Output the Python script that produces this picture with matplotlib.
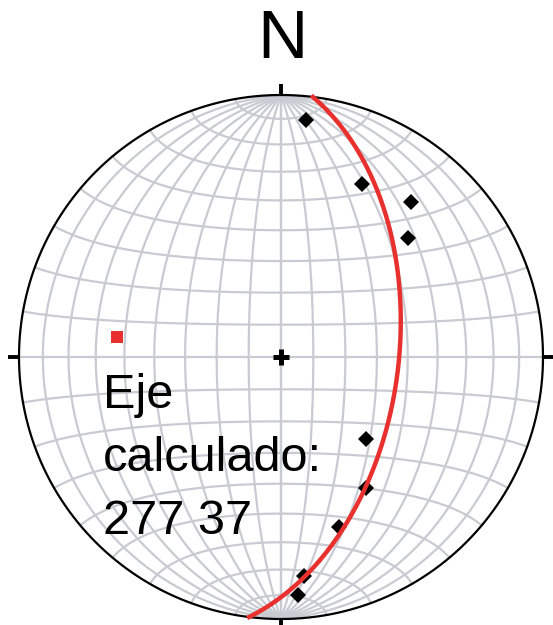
import numpy as np
import matplotlib.pyplot as plt

plt.rcParams['font.family'] = ['Liberation Sans', 'DejaVu Sans']

# measured lineations (trend, plunge in degrees)
trends = [6, 25, 40, 47, 134, 147, 161, 174, 176]
plunges = [10, 28, 24, 34, 53, 40, 32, 17, 10]

# computed fold axis
axis_trend = 277
axis_plunge = 37
label_lines = ["Eje", "calculado:", f"{axis_trend} {axis_plunge}"]

GRID = "#c9cbd2"
RED = "#e8312f"


def line_vec(trend, plunge):
    t, p = np.radians(trend), np.radians(plunge)
    return np.array([np.cos(p) * np.sin(t), np.cos(p) * np.cos(t), np.sin(p)])


def project(v):
    # lower hemisphere Lambert equal-area, primitive radius 1
    e, n, d = v
    k = 1.0 / np.sqrt(1.0 + d)
    return e * k, n * k


fig = plt.figure(figsize=(5.53, 6.25), dpi=100)
ax = fig.add_axes([0, 0, 1, 1])
R = 262.0
ax.set_xlim(-281 / R, 272 / R)
ax.set_ylim(-268 / R, 357 / R)
ax.axis("off")

phi = np.linspace(0, np.pi, 361)

# meridians: N-S striking great circles every 10 degrees
for dip in range(10, 91, 10):
    for side in (1, -1):
        dv = np.array([side * np.cos(np.radians(dip)), 0, np.sin(np.radians(dip))])
        pts = np.outer(np.cos(phi), [0, 1, 0]) + np.outer(np.sin(phi), dv)
        x, y = project(pts.T)
        ax.plot(x, y, color=GRID, lw=1.6, zorder=1, solid_capstyle="butt")

# small circles about the N-S axis
for alpha in range(10, 171, 10):
    a = np.radians(alpha)
    pts = np.array([np.sin(a) * np.cos(phi), np.full_like(phi, np.cos(a)),
                    np.sin(a) * np.sin(phi)])
    x, y = project(pts)
    ax.plot(x, y, color=GRID, lw=1.6, zorder=1)

# primitive circle and cardinal ticks
th = np.linspace(0, 2 * np.pi, 721)
ax.plot(np.cos(th), np.sin(th), color="black", lw=1.6, zorder=2)
tl = 11 / R
for dx, dy in [(0, 1), (0, -1), (1, 0), (-1, 0)]:
    ax.plot([dx, dx * (1 + tl)], [dy, dy * (1 + tl)], color="black", lw=2.8,
            zorder=2, solid_capstyle="butt")
ax.plot(0, 0, marker="+", color="black", ms=12, mew=3.6, zorder=6)

# lineations
px, py = [], []
for t, p in zip(trends, plunges):
    x, y = project(line_vec(t, p))
    px.append(x)
    py.append(y)
ax.plot(px, py, "D", color="black", ms=8.5, mew=0, zorder=3, linestyle="none")

# great circle normal to the computed axis
s = line_vec(axis_trend + 90, 0)
u = line_vec(axis_trend + 180, 90 - axis_plunge)
pts = np.outer(np.cos(phi), s) + np.outer(np.sin(phi), u)
gx, gy = project(pts.T)
ax.plot(gx, gy, color=RED, lw=3.2, zorder=4)

# axis point
ax_x, ax_y = project(line_vec(axis_trend, axis_plunge))
ax.plot(ax_x, ax_y, "s", color=RED, ms=8.5, mew=0, zorder=5)

ax.text(0.004, 1.21, "N", ha="center", va="center", fontsize=50, zorder=6)

for i, line in enumerate(label_lines):
    ax.text(-178 / R, (357 - 408 - 63 * i) / R, line, ha="left",
            va="baseline", fontsize=35, zorder=6)

fig.savefig("out.png", dpi=100)
